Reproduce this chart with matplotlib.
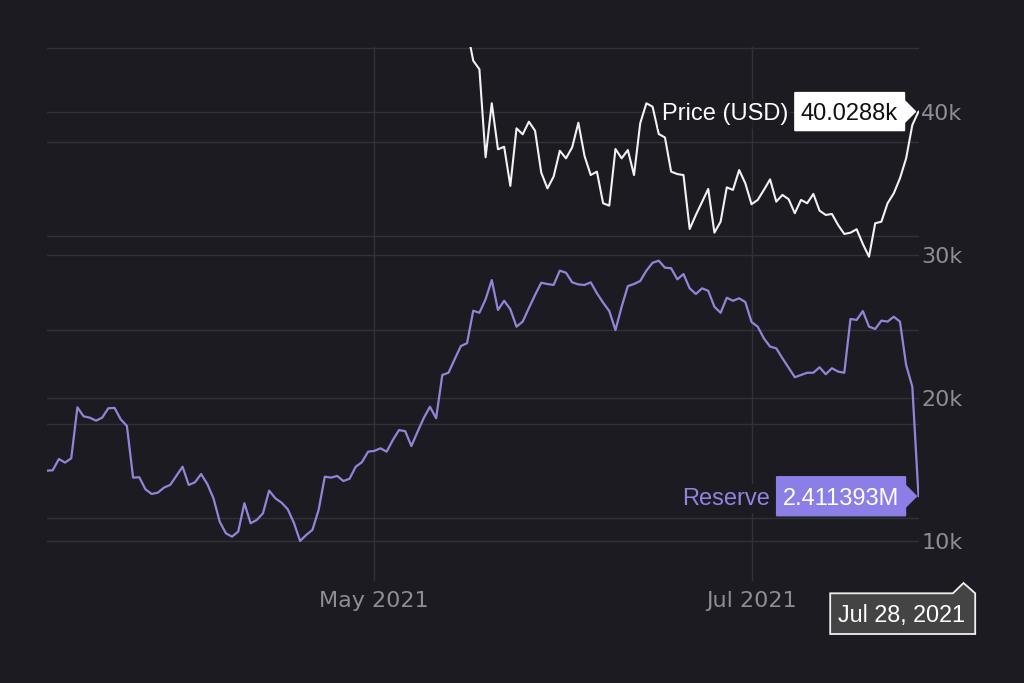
import numpy as np
import pandas as pd
import matplotlib
matplotlib.use("Agg")
import matplotlib.pyplot as plt
import matplotlib.dates as mdates
from matplotlib.patches import Polygon
from matplotlib.transforms import blended_transform_factory, IdentityTransform

# ---------------- data ----------------
reserve_dates = pd.date_range("2021-03-09", "2021-07-28", freq="D")
reserve_musd = [
    2.4250, 2.4252, 2.4312, 2.4293, 2.4316, 2.4587, 2.4539, 2.4532, 2.4516, 2.4532,
    2.4582, 2.4584, 2.4523, 2.4488, 2.4213, 2.4215, 2.4151, 2.4126, 2.4133, 2.4160,
    2.4174, 2.4222, 2.4271, 2.4174, 2.4188, 2.4232, 2.4179, 2.4103, 2.3979, 2.3917,
    2.3899, 2.3926, 2.4077, 2.3970, 2.3988, 2.4023, 2.4144, 2.4103, 2.4080, 2.4045,
    2.3973, 2.3876, 2.3908, 2.3935, 2.4041, 2.4218, 2.4213, 2.4222, 2.4195, 2.4207,
    2.4271, 2.4295, 2.4351, 2.4355, 2.4369, 2.4351, 2.4413, 2.4466, 2.4460, 2.4381,
    2.4457, 2.4530, 2.4590, 2.4529, 2.4759, 2.4771, 2.4843, 2.4913, 2.4928, 2.5101,
    2.5090, 2.5162, 2.5264, 2.5105, 2.5154, 2.5109, 2.5016, 2.5043, 2.5115, 2.5185,
    2.5250, 2.5243, 2.5238, 2.5314, 2.5303, 2.5252, 2.5241, 2.5238, 2.5252, 2.5194,
    2.5144, 2.5099, 2.4998, 2.5122, 2.5232, 2.5243, 2.5259, 2.5314, 2.5356, 2.5367,
    2.5330, 2.5327, 2.5268, 2.5296, 2.5220, 2.5190, 2.5220, 2.5207, 2.5122, 2.5090,
    2.5170, 2.5154, 2.5167, 2.5147, 2.5041, 2.5016, 2.4954, 2.4910, 2.4901, 2.4848,
    2.4798, 2.4747, 2.4759, 2.4771, 2.4771, 2.4800, 2.4763, 2.4795, 2.4777, 2.4771,
    2.5057, 2.5052, 2.5099, 2.5016, 2.5004, 2.5048, 2.5043, 2.5069, 2.5043, 2.4812,
    2.4697, 2.411393,
]

price_dates = pd.date_range("2021-05-16", "2021-07-28", freq="D")
price_usd = [
    45800, 43590, 42990, 36830, 40610, 37390, 37570, 34830, 38860, 38440,
    39320, 38690, 35760, 34660, 35480, 37290, 36760, 37530, 39250, 36920,
    35590, 35830, 33620, 33450, 37410, 36760, 37340, 35590, 39210, 40610,
    40370, 38460, 38220, 35830, 35660, 35590, 31820, 32800, 33710, 34620,
    31560, 32330, 34730, 34550, 35940, 35010, 33550, 33850, 34550, 35290,
    33730, 34200, 33900, 32920, 33850, 33620, 34270, 33100, 32800, 32870,
    32100, 31470, 31560, 31800, 30770, 29880, 32220, 32330, 33620, 34310,
    35360, 36760, 39090, 40028.8,
]

price_ticks = [10000, 20000, 30000, 40000]
price_tick_labels = ["10k", "20k", "30k", "40k"]
reserve_grid = [2.40, 2.45, 2.50, 2.55, 2.60, 2.65]
x_ticks = ["2021-05-01", "2021-07-01"]
x_tick_labels = ["May 2021", "Jul 2021"]

price_name = "Price (USD)"
price_hover = "40.0288k"
reserve_name = "Reserve"
reserve_hover = "2.411393M"
date_hover = "Jul 28, 2021"

# ---------------- style ----------------
BG = "#1c1b21"
GRID = "#323138"
TICK = "#8d8d93"
WHITE = "#f2f2f2"
PURPLE = "#8f86d8"
PURPLE_BOX = "#8b7ee6"
PURPLE_TXT = "#8f84e0"
HFONT = ["Liberation Sans", "DejaVu Sans"]

W_PX, H_PX = 1024, 683
fig = plt.figure(figsize=(W_PX / 100, H_PX / 100), dpi=100, facecolor=BG)

left_px, right_px, top_px, bot_px = 46.5, 918.5, 47.0, 581.0
ax_p = fig.add_axes([left_px / W_PX, 1 - bot_px / H_PX,
                     (right_px - left_px) / W_PX, (bot_px - top_px) / H_PX])
ax_p.set_facecolor(BG)
ax_r = ax_p.twinx()
ax_r.patch.set_visible(False)
for a in (ax_p, ax_r):
    for s in a.spines.values():
        s.set_visible(False)

ax_p.plot(price_dates, price_usd, color=WHITE, lw=1.5, zorder=3,
          solid_joinstyle="round", solid_capstyle="round")
ax_r.plot(reserve_dates, reserve_musd, color=PURPLE, lw=1.6, zorder=3,
          solid_joinstyle="round", solid_capstyle="round")

ax_p.set_xlim(reserve_dates[0], reserve_dates[-1])
ax_p.set_ylim(7203, 44545)
ax_r.set_ylim(2.3663, 2.6504)

ax_p.yaxis.tick_right()
ax_p.set_yticks(price_ticks, price_tick_labels)
ax_p.tick_params(axis="y", length=0, pad=2, labelsize=16, labelcolor=TICK)
ax_p.set_xticks(pd.to_datetime(x_ticks), x_tick_labels)
ax_p.tick_params(axis="x", length=0, pad=7, labelsize=16, labelcolor=TICK)
ax_p.grid(True, color=GRID, lw=1.0)
ax_r.yaxis.set_visible(False)

trans = blended_transform_factory(ax_p.transAxes, ax_r.transData)
for v in reserve_grid:
    ax_p.plot([0, 1], [v, v], transform=trans, color=GRID, lw=1.0, zorder=1.5)

fig.canvas.draw()
renderer = fig.canvas.get_renderer()
ident = IdentityTransform()


def hover_right(tip, name, value, name_color, fc, ec, tcolor, half_h, name_bg_alpha, fs=17):
    tx, ty = tip
    aw, ah = 11, 11
    right = tx - aw
    cap = 0.716 * fs * 100 / 72
    base = ty - cap / 2
    t = fig.text(right - 6.5, base, value, transform=ident, ha="right", va="baseline",
                 color=tcolor, fontsize=fs, family=HFONT, zorder=6)
    x0 = t.get_window_extent(renderer).x0
    left = x0 - 6
    pts = [(left, ty - half_h), (right, ty - half_h), (right, ty - ah), (tx, ty),
           (right, ty + ah), (right, ty + half_h), (left, ty + half_h)]
    fig.add_artist(Polygon(pts, closed=True, transform=ident, fc=fc, ec=ec,
                           lw=1.0, zorder=5))
    fig.text(left - 7, base, name, transform=ident, ha="right", va="baseline",
             color=name_color, fontsize=fs, family=HFONT, zorder=6,
             bbox=dict(fc=BG, ec="none", alpha=name_bg_alpha,
                       boxstyle="square,pad=0.15"))


pp = ax_p.transData.transform((mdates.date2num(price_dates[-1]), price_usd[-1]))
rp = ax_r.transData.transform((mdates.date2num(reserve_dates[-1]), reserve_musd[-1]))

hover_right((pp[0] - 3, pp[1]), price_name, price_hover, "white", "white", "white",
            "#111111", 19, 0.55)
hover_right((rp[0] - 2, rp[1]), reserve_name, reserve_hover, PURPLE_TXT, PURPLE_BOX,
            PURPLE_BOX, "white", 19.5, 1.0)

# x hover label (date)
ax_bottom = ax_p.get_window_extent(renderer).y0
tip_x = rp[0] + 45
tip_y = ax_bottom - 2
top = tip_y - 10.3
bottom = top - 40.7
right = tip_x + 11.7
left = right - 145
pts = [(left, top), (tip_x - 10.6, top), (tip_x, tip_y), (right, top),
       (right, bottom), (left, bottom)]
fig.add_artist(Polygon(pts, closed=True, transform=ident, fc="#444444", ec="#f0f0f0",
                       lw=1.3, zorder=5))
fs = 16.8
cap = 0.716 * fs * 100 / 72
fig.text((left + right) / 2 - 0.8, (top + bottom) / 2 - cap / 2, date_hover,
         transform=ident, ha="center", va="baseline", color="white", fontsize=fs,
         family=HFONT, zorder=6)

fig.savefig("out.png", dpi=100, facecolor=BG)
